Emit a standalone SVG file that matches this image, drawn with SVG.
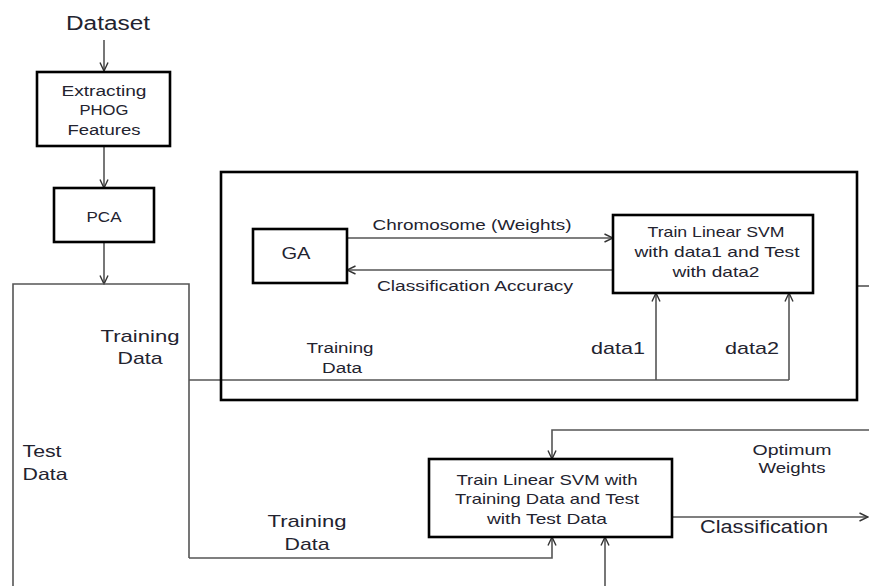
<svg xmlns="http://www.w3.org/2000/svg" width="869" height="586" viewBox="0 0 869 586">
<style>
text{font-family:"Liberation Sans",Arial,sans-serif;fill:#23232f;text-anchor:middle}
.box{fill:#fff;stroke:#000;stroke-width:2.6}
.frame{fill:none;stroke:#000;stroke-width:2.6}
.ln{fill:none;stroke:#555;stroke-width:1.6}
.arr{fill:none;stroke:#555;stroke-width:1.6;marker-end:url(#ah)}
</style>
<defs>
<marker id="ah" viewBox="0 0 10 10" refX="9.5" refY="5" markerWidth="10" markerHeight="10" markerUnits="userSpaceOnUse" orient="auto">
<path d="M1,1 L9.5,5 L1,9" fill="none" stroke="#333" stroke-width="1.4"/>
</marker>
</defs>
<rect width="869" height="586" fill="#fff"/>

<g id="connectors">
<line class="arr" x1="104" y1="40" x2="104" y2="71"/>
<line class="arr" x1="104" y1="146" x2="104" y2="188"/>
<line class="arr" x1="104" y1="242" x2="104" y2="284"/>
<path class="ln" d="M13,586 L13,284 L189,284 L189,558"/>
<line class="ln" x1="189" y1="380" x2="789" y2="380"/>
<line class="arr" x1="656" y1="380" x2="656" y2="293"/>
<line class="arr" x1="789" y1="380" x2="789" y2="293"/>
<line class="arr" x1="347" y1="238" x2="613" y2="238"/>
<line class="arr" x1="613" y1="270" x2="347" y2="270"/>
<line class="ln" x1="857" y1="286" x2="869" y2="286"/>
<path class="arr" d="M189,558 L552,558 L552,537"/>
<line class="arr" x1="605" y1="586" x2="605" y2="537"/>
<path class="arr" d="M869,430 L552,430 L552,459"/>
<line class="arr" x1="672" y1="517" x2="868" y2="517"/>
</g>

<g id="dataset">
<text x="108" y="30" font-size="20" textLength="84" lengthAdjust="spacingAndGlyphs">Dataset</text>
</g>

<g id="extract">
<rect class="box" x="37" y="72" width="133" height="74"/>
<text x="104" y="96" font-size="15.5" textLength="85" lengthAdjust="spacingAndGlyphs">Extracting</text>
<text x="104" y="115" font-size="15.5" textLength="49" lengthAdjust="spacingAndGlyphs">PHOG</text>
<text x="104" y="135" font-size="15.5" textLength="73" lengthAdjust="spacingAndGlyphs">Features</text>
</g>

<g id="pca">
<rect class="box" x="54" y="188" width="100" height="54"/>
<text x="104" y="222" font-size="15.5" textLength="35" lengthAdjust="spacingAndGlyphs">PCA</text>
</g>

<g id="ga-frame">
<rect class="frame" x="221" y="172" width="636" height="228"/>
</g>

<g id="ga">
<rect class="box" x="253" y="229" width="94" height="54"/>
<text x="296" y="259" font-size="17" textLength="29" lengthAdjust="spacingAndGlyphs">GA</text>
</g>

<g id="svm1">
<rect class="box" x="613" y="215" width="200" height="78"/>
<text x="716" y="237" font-size="15" textLength="137" lengthAdjust="spacingAndGlyphs">Train Linear SVM</text>
<text x="717" y="257" font-size="15" textLength="165" lengthAdjust="spacingAndGlyphs">with  data1 and Test</text>
<text x="716" y="277" font-size="15" textLength="87" lengthAdjust="spacingAndGlyphs">with data2</text>
</g>

<g id="svm2">
<rect class="box" x="429" y="459" width="243" height="78"/>
<text x="547" y="485" font-size="15" textLength="181" lengthAdjust="spacingAndGlyphs">Train Linear SVM with</text>
<text x="547" y="504" font-size="15" textLength="184" lengthAdjust="spacingAndGlyphs">Training Data and Test</text>
<text x="547" y="524" font-size="15" textLength="120" lengthAdjust="spacingAndGlyphs">with Test Data</text>
</g>

<g id="labels">
<text x="472" y="230" font-size="15.5" textLength="199" lengthAdjust="spacingAndGlyphs">Chromosome (Weights)</text>
<text x="475" y="291" font-size="15.5" textLength="196" lengthAdjust="spacingAndGlyphs">Classification  Accuracy</text>
<text x="340" y="353" font-size="15.5" textLength="67" lengthAdjust="spacingAndGlyphs">Training</text>
<text x="342" y="373" font-size="15.5" textLength="40" lengthAdjust="spacingAndGlyphs">Data</text>
<text x="618" y="354" font-size="17" textLength="54" lengthAdjust="spacingAndGlyphs">data1</text>
<text x="752" y="354" font-size="17" textLength="54" lengthAdjust="spacingAndGlyphs">data2</text>
<text x="140" y="342" font-size="17" textLength="79" lengthAdjust="spacingAndGlyphs">Training</text>
<text x="140" y="364" font-size="17" textLength="45" lengthAdjust="spacingAndGlyphs">Data</text>
<text x="42" y="457" font-size="16.5" textLength="39" lengthAdjust="spacingAndGlyphs">Test</text>
<text x="45" y="480" font-size="16.5" textLength="45" lengthAdjust="spacingAndGlyphs">Data</text>
<text x="307" y="527" font-size="17" textLength="79" lengthAdjust="spacingAndGlyphs">Training</text>
<text x="307" y="550" font-size="17" textLength="45" lengthAdjust="spacingAndGlyphs">Data</text>
<text x="792" y="455" font-size="15.5" textLength="79" lengthAdjust="spacingAndGlyphs">Optimum</text>
<text x="792" y="473" font-size="15.5" textLength="67" lengthAdjust="spacingAndGlyphs">Weights</text>
<text x="764" y="533" font-size="17.5" textLength="128" lengthAdjust="spacingAndGlyphs">Classification</text>
</g>
</svg>
